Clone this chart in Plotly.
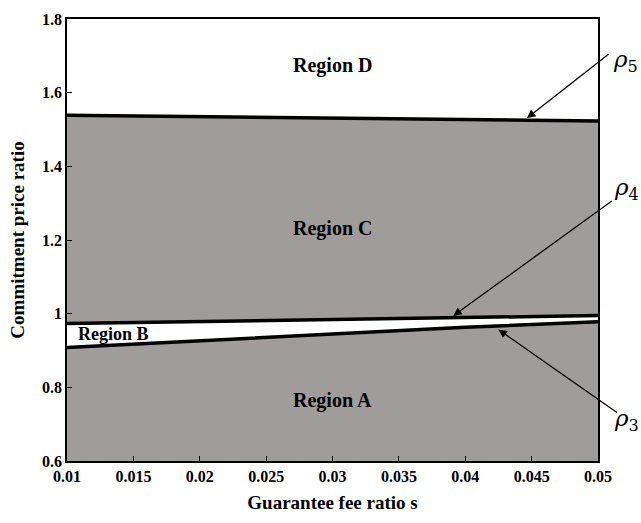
import plotly.graph_objects as go

s_vals = [0.01, 0.02, 0.03, 0.04, 0.05]
rho3 = [0.908, 0.927, 0.946, 0.963, 0.978]
rho4 = [0.973, 0.979, 0.985, 0.990, 0.995]
rho5 = [1.539, 1.535, 1.531, 1.527, 1.523]
y_floor = [0.6, 0.6, 0.6, 0.6, 0.6]
x_ticks = [0.01, 0.015, 0.02, 0.025, 0.03, 0.035, 0.04, 0.045, 0.05]
y_ticks = [0.6, 0.8, 1.0, 1.2, 1.4, 1.6, 1.8]
y_ticklabels = ["0.6", "0.8", "1", "1.2", "1.4", "1.6", "1.8"]

GRAY = "#a09c9b"
FONT = "Liberation Serif"

fig = go.Figure()
fig.add_trace(go.Scatter(x=s_vals, y=y_floor, mode="lines", line=dict(width=0), hoverinfo="skip"))
fig.add_trace(go.Scatter(x=s_vals, y=rho3, mode="lines", line=dict(width=0), fill="tonexty", fillcolor=GRAY))
fig.add_trace(go.Scatter(x=s_vals, y=rho4, mode="lines", line=dict(width=0)))
fig.add_trace(go.Scatter(x=s_vals, y=rho5, mode="lines", line=dict(width=0), fill="tonexty", fillcolor=GRAY))
for ys in (rho3, rho4, rho5):
    fig.add_trace(go.Scatter(x=s_vals, y=ys, mode="lines", line=dict(color="black", width=3.5)))

label_font = dict(family=FONT, size=20, color="black")
annos = [
    dict(x=0.03, y=1.675, text="<b>Region D</b>", showarrow=False, font=label_font, xref="x", yref="y"),
    dict(x=0.03, y=1.23, text="<b>Region C</b>", showarrow=False, font=label_font, xref="x", yref="y"),
    dict(x=0.03, y=0.765, text="<b>Region A</b>", showarrow=False, font=label_font, xref="x", yref="y"),
    dict(x=0.01347, y=0.946, text="<b>Region B</b>", showarrow=False,
         font=dict(family=FONT, size=18, color="black"), xref="x", yref="y"),
]
arrows = [
    (0.04465, 1.531, 83, -65),
    (0.0391, 0.994, 160, -116),
    (0.0425, 0.957, 120, 84),
]
for (ax_, ay_, dx, dy) in arrows:
    annos.append(dict(x=ax_, y=ay_, xref="x", yref="y", ax=dx, ay=dy, text="",
                      showarrow=True, arrowhead=2, arrowsize=1.3, arrowwidth=1.3, arrowcolor="black"))
rho_font = dict(family="DejaVu Serif", size=23, color="black")
for txt, px, py in [("<i>ρ</i><sub>5</sub>", 1.052, 0.905),
                    ("<i>ρ</i><sub>4</sub>", 1.054, 0.615),
                    ("<i>ρ</i><sub>3</sub>", 1.054, 0.092)]:
    annos.append(dict(x=px, y=py, xref="paper", yref="paper", text=txt, showarrow=False,
                      font=rho_font, xanchor="center", yanchor="middle"))

fig.update_layout(
    width=641, height=523,
    margin=dict(l=67, r=43, t=11, b=62),
    paper_bgcolor="white", plot_bgcolor="white",
    showlegend=False,
    annotations=annos,
    font=dict(family=FONT, size=16, color="black"),
)
fig.update_xaxes(range=[0.01, 0.05], tickvals=x_ticks, ticktext=[f"<b>{v:g}</b>" for v in x_ticks],
                 ticks="inside", ticklen=5, tickcolor="black", showline=True, linecolor="black",
                 linewidth=1.5, mirror=True, showgrid=False, zeroline=False,
                 tickfont=dict(family=FONT, size=16),
                 title=dict(text="<b>Guarantee fee ratio s</b>", font=dict(family=FONT, size=19), standoff=12))
fig.update_yaxes(range=[0.6, 1.8], tickvals=y_ticks, ticktext=[f"<b>{t}</b>" for t in y_ticklabels],
                 ticks="inside", ticklen=5, tickcolor="black", showline=True, linecolor="black",
                 linewidth=1.5, mirror=True, showgrid=False, zeroline=False,
                 tickfont=dict(family=FONT, size=16),
                 title=dict(text="<b>Commitment price ratio</b>", font=dict(family=FONT, size=19), standoff=12))

fig.write_html("out.html")
